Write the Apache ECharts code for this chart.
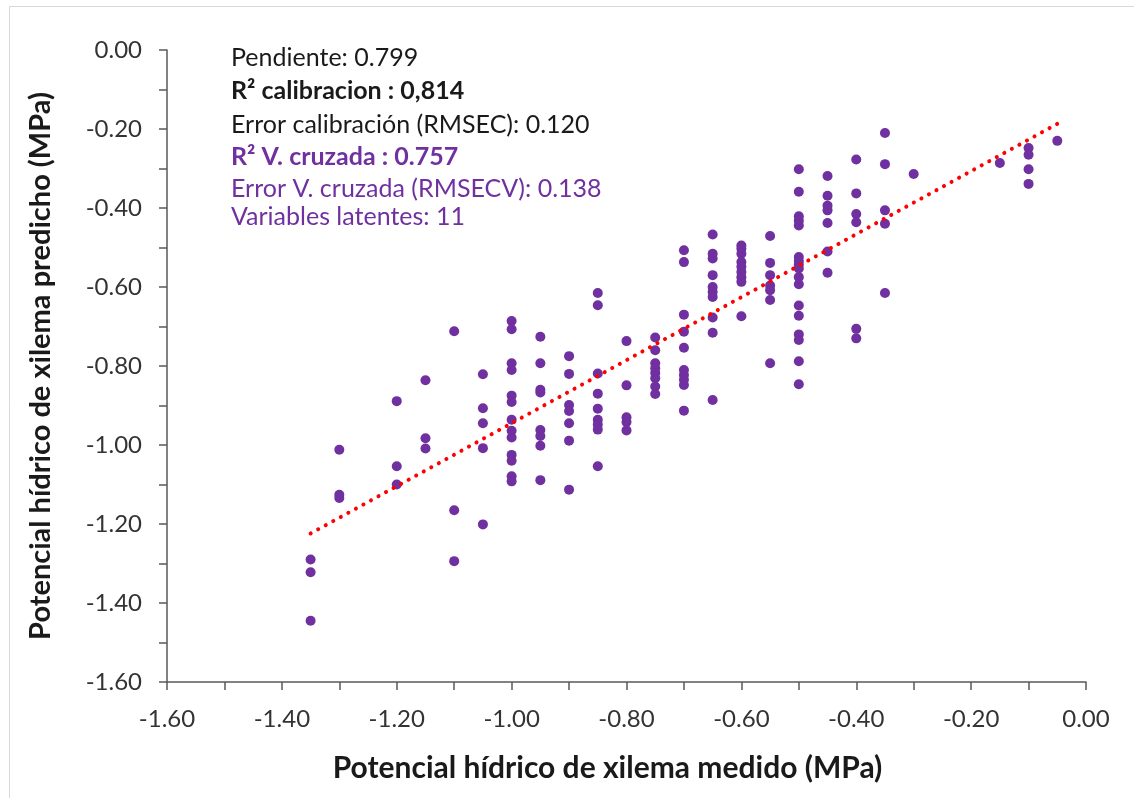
<!DOCTYPE html>
<html lang="es">
<head>
    <meta charset="UTF-8">
    <title>Potencial hídrico de xilema</title>
    <style>
        html, body { margin: 0; padding: 0; background: #fff; }
        #grafico { width: 1134px; height: 798px; }
    </style>
</head>
<body>
<div id="grafico"></div>

<script src="https://cdn.jsdelivr.net/npm/echarts@6/dist/echarts.min.js"></script>
<script type="text/javascript">
    // potencial medido (columnas del eje X)
    var medido = [-1.35, -1.30, -1.20, -1.15, -1.10, -1.05, -1.00, -0.95, -0.90, -0.85, -0.80, -0.75,
        -0.70, -0.65, -0.60, -0.55, -0.50, -0.45, -0.40, -0.35, -0.30, -0.15, -0.10, -0.05];

    // potencial predicho para cada columna
    var predicho = [
        [-1.290, -1.322, -1.445],
        [-1.012, -1.126, -1.134],
        [-0.889, -1.054, -1.100],
        [-0.836, -0.983, -1.009],
        [-0.712, -1.165, -1.294],
        [-0.821, -0.907, -0.945, -1.008, -1.201],
        [-0.686, -0.707, -0.793, -0.810, -0.875, -0.891, -0.936, -0.964, -0.981, -1.025, -1.040, -1.079, -1.092],
        [-0.726, -0.793, -0.860, -0.867, -0.962, -0.977, -1.002, -1.089],
        [-0.775, -0.820, -0.899, -0.914, -0.945, -0.989, -1.113],
        [-0.615, -0.646, -0.819, -0.870, -0.908, -0.936, -0.948, -0.961, -1.054],
        [-0.737, -0.849, -0.930, -0.942, -0.963],
        [-0.728, -0.760, -0.793, -0.806, -0.818, -0.831, -0.852, -0.871],
        [-0.507, -0.537, -0.670, -0.713, -0.754, -0.810, -0.823, -0.835, -0.848, -0.913],
        [-0.467, -0.516, -0.528, -0.570, -0.600, -0.612, -0.625, -0.677, -0.716, -0.886],
        [-0.495, -0.503, -0.516, -0.537, -0.549, -0.562, -0.575, -0.587, -0.674],
        [-0.471, -0.539, -0.570, -0.596, -0.608, -0.633, -0.793],
        [-0.302, -0.359, -0.421, -0.432, -0.444, -0.524, -0.534, -0.543, -0.553, -0.575, -0.593,
            -0.647, -0.673, -0.720, -0.734, -0.788, -0.846],
        [-0.319, -0.369, -0.394, -0.406, -0.438, -0.510, -0.564],
        [-0.277, -0.363, -0.415, -0.436, -0.706, -0.730],
        [-0.210, -0.289, -0.406, -0.440, -0.615],
        [-0.314],
        [-0.286],
        [-0.248, -0.265, -0.302, -0.339],
        [-0.230]
    ];

    // recta de ajuste (extremos)
    var rectaX = [-1.35, -0.05];
    var rectaY = [-1.224, -0.187];

    // textos del recuadro
    var textos = [
        'Pendiente: 0.799',
        'R² calibracion : 0,814',
        'Error calibración (RMSEC): 0.120',
        'R² V. cruzada : 0.757',
        'Error V. cruzada (RMSECV): 0.138',
        'Variables latentes: 11'
    ];

    var puntos = [];
    for (var i = 0; i < medido.length; i++) {
        for (var j = 0; j < predicho[i].length; j++) {
            puntos.push([medido[i], predicho[i][j]]);
        }
    }
    var recta = [];
    for (var k = 0; k < rectaX.length; k++) {
        recta.push([rectaX[k], rectaY[k]]);
    }

    var fuente = 'Lato, "Open Sans", sans-serif';
    var morado = '#7030A0';
    var estilos = [
        {color: '#1a1a1a', weight: 'normal', y: 58},
        {color: '#1a1a1a', weight: 'bold', y: 91},
        {color: '#1a1a1a', weight: 'normal', y: 125},
        {color: morado, weight: 'bold', y: 157},
        {color: morado, weight: 'normal', y: 189},
        {color: morado, weight: 'normal', y: 217}
    ];
    var graficos = [{
        type: 'rect',
        left: 7, top: 4,
        shape: {width: 1140, height: 800},
        style: {fill: 'none', stroke: '#d9d9d9', lineWidth: 1},
        z: -1
    }];
    for (var t = 0; t < textos.length; t++) {
        graficos.push({
            type: 'text',
            left: 231,
            top: estilos[t].y - 13,
            style: {
                text: textos[t],
                fill: estilos[t].color,
                font: estilos[t].weight + ' 25px ' + fuente
            }
        });
    }

    var myChart = echarts.init(document.getElementById('grafico'));
    var option = {
        animation: false,
        backgroundColor: '#fff',
        textStyle: {fontFamily: fuente},
        grid: {left: 167, right: 48, top: 50, bottom: 116},
        graphic: graficos,
        xAxis: {
            type: 'value',
            min: -1.6,
            max: 0,
            interval: 0.2,
            name: 'Potencial hídrico de xilema medido (MPa)',
            nameLocation: 'middle',
            nameGap: 71,
            nameTextStyle: {
                fontSize: 30, fontWeight: 'bold', color: '#1a1a1a', fontFamily: fuente,
                padding: [0, 38, 0, 0]
            },
            axisLine: {onZero: false, lineStyle: {color: '#595959', width: 1.5}},
            axisTick: {length: 8, lineStyle: {color: '#595959', width: 1.5}},
            minorTick: {show: true, splitNumber: 2, length: 8, lineStyle: {color: '#595959', width: 1.5}},
            axisLabel: {
                fontSize: 24, color: '#333', margin: 25, fontFamily: fuente,
                formatter: function (v) { return v.toFixed(2); }
            },
            splitLine: {show: false}
        },
        yAxis: {
            type: 'value',
            min: -1.6,
            max: 0,
            interval: 0.2,
            name: 'Potencial hídrico de xilema predicho (MPa)',
            nameLocation: 'middle',
            nameGap: 112,
            nameTextStyle: {fontSize: 29, fontWeight: 'bold', color: '#1a1a1a', fontFamily: fuente},
            axisLine: {onZero: false, lineStyle: {color: '#595959', width: 1.5}},
            axisTick: {length: 8, lineStyle: {color: '#595959', width: 1.5}},
            minorTick: {show: true, splitNumber: 2, length: 8, lineStyle: {color: '#595959', width: 1.5}},
            axisLabel: {
                fontSize: 24, color: '#333', margin: 25, fontFamily: fuente,
                formatter: function (v) { return v.toFixed(2); }
            },
            splitLine: {show: false}
        },
        series: [
            {
                type: 'line',
                data: recta,
                symbol: 'none',
                lineStyle: {color: '#ff0000', width: 4, type: [0.1, 8.5], cap: 'round'},
                z: 3
            },
            {
                type: 'scatter',
                data: puntos,
                symbolSize: 10,
                itemStyle: {color: morado, opacity: 1},
                z: 2
            }
        ]
    };
    myChart.setOption(option);
</script>
</body>
</html>
